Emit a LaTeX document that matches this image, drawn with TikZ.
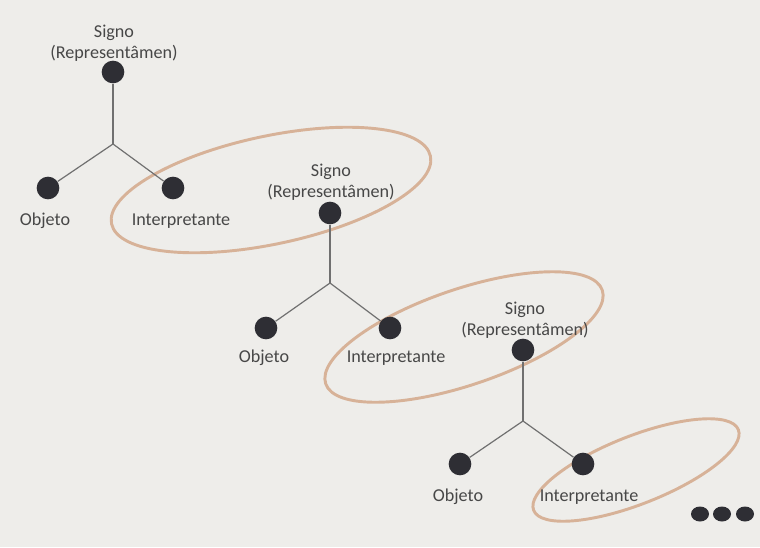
\documentclass[tikz,border=0pt]{standalone}
\usepackage{fontspec}
\setmainfont{Carlito}
\usepackage{xcolor}
\usepackage{tikz}

\definecolor{paper}{HTML}{EEEDEA}
\definecolor{dotgray}{HTML}{2E2E34}
\definecolor{linegray}{HTML}{707070}
\definecolor{textgray}{HTML}{474747}
\definecolor{ringtan}{HTML}{D7B298}

\begin{document}
\begin{tikzpicture}[
    x=0.75pt, y=-0.75pt,
    vertex/.style={
        circle,
        fill=dotgray,
        inner sep=0pt,
        minimum size=17pt
    },
    term/.style={
        text=textgray,
        align=center,
        inner sep=0pt,
        font=\fontsize{13.6}{15.5}\selectfont
    },
    branch/.style={draw=linegray, line width=0.9pt},
    ring/.style={draw=ringtan, line width=2.2pt}
]

\fill[paper] (0,0) rectangle (760,547);
\useasboundingbox (0,0) rectangle (760,547);

\draw[ring, rotate around={12:(271,190)}] (271,190) ellipse [x radius=163, y radius=54];
\draw[ring, rotate around={18.7:(464,337)}] (464,337) ellipse [x radius=146, y radius=48];
\draw[ring, rotate around={21.5:(636,470)}] (636,470) ellipse [x radius=110, y radius=34];

\node[vertex] (sig1) at (113,72) {};
\node[vertex] (obj1) at (48,188) {};
\node[vertex] (int1) at (173,188) {};
\coordinate (mid1) at (113,144);

\node[vertex] (sig2) at (330,213) {};
\node[vertex] (obj2) at (266,328) {};
\node[vertex] (int2) at (390,328) {};
\coordinate (mid2) at (330,283);

\node[vertex] (sig3) at (523,350) {};
\node[vertex] (obj3) at (460,464) {};
\node[vertex] (int3) at (583,464) {};
\coordinate (mid3) at (523,421);

\node[term] (sigtext1) at (114,43) {Signo\\(Representâmen)};
\node[term] (objtext1) at (45,221) {Objeto};
\node[term] (inttext1) at (181,221) {Interpretante};

\node[term] (sigtext2) at (331,182) {Signo\\(Representâmen)};
\node[term] (objtext2) at (264,358) {Objeto};
\node[term] (inttext2) at (396,358) {Interpretante};

\node[term] (sigtext3) at (525,320) {Signo\\(Representâmen)};
\node[term] (objtext3) at (458,497) {Objeto};
\node[term] (inttext3) at (589,497) {Interpretante};

\draw[branch] (sig1) -- (mid1);
\draw[branch] (mid1) -- (obj1);
\draw[branch] (mid1) -- (int1);
\draw[branch] (sig2) -- (mid2);
\draw[branch] (mid2) -- (obj2);
\draw[branch] (mid2) -- (int2);
\draw[branch] (sig3) -- (mid3);
\draw[branch] (mid3) -- (obj3);
\draw[branch] (mid3) -- (int3);

\fill[dotgray] (700,514) ellipse [x radius=9, y radius=7.5];
\fill[dotgray] (722,514) ellipse [x radius=9, y radius=7.5];
\fill[dotgray] (745,514) ellipse [x radius=9, y radius=7.5];

\end{tikzpicture}
\end{document}
